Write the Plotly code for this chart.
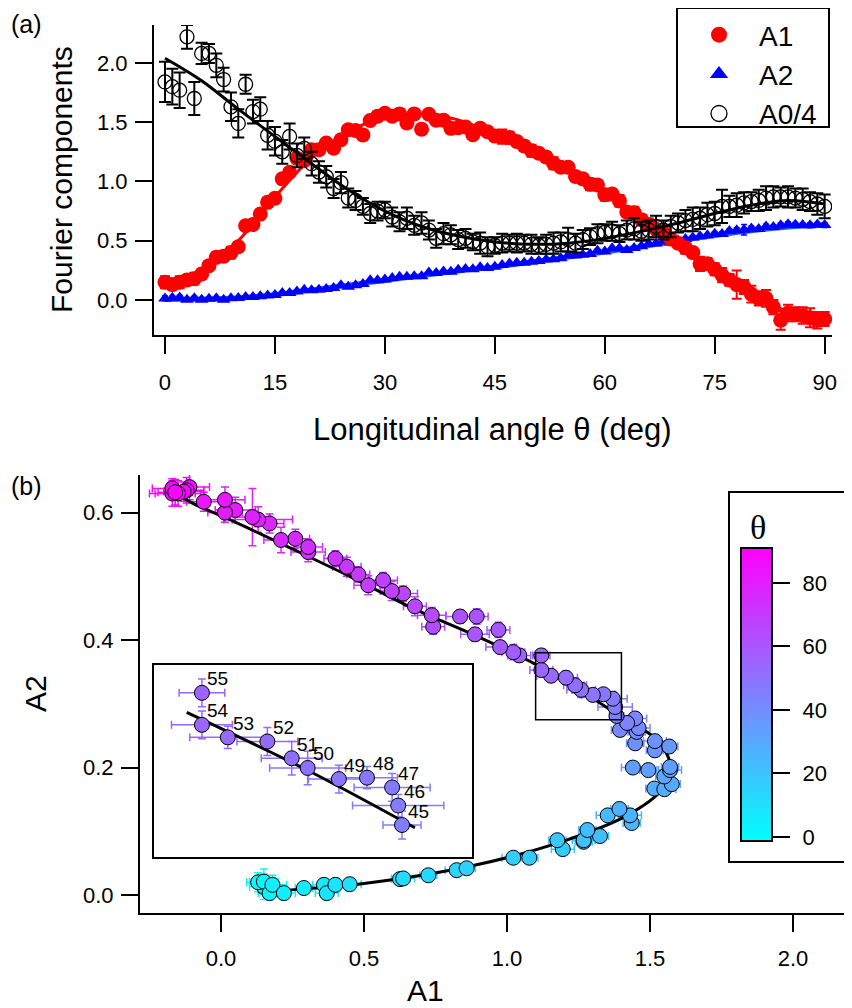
import plotly.graph_objects as go

# ---------------- data ----------------
theta = list(range(91))

A1 = [0.15, 0.13, 0.15, 0.17, 0.18, 0.22, 0.29, 0.36, 0.37, 0.40,
      0.45, 0.626, 0.637, 0.725, 0.824, 0.859, 1.022, 1.078, 1.195, 1.176,
      1.268, 1.268, 1.325, 1.281, 1.352, 1.436, 1.43, 1.393, 1.515, 1.55,
      1.576, 1.55, 1.57, 1.494, 1.57, 1.44, 1.567, 1.517, 1.517, 1.448,
      1.453, 1.46, 1.395, 1.448, 1.42, 1.383, 1.378, 1.37, 1.337, 1.30,
      1.259, 1.238, 1.206, 1.154, 1.12, 1.12, 1.043, 1.022, 0.976, 0.97,
      0.888, 0.894, 0.836, 0.742, 0.737, 0.678, 0.637, 0.597, 0.567, 0.515,
      0.48, 0.44, 0.40, 0.305, 0.305, 0.26, 0.21, 0.17, 0.13, 0.11,
      0.05, 0.014, 0.014, -0.06, -0.17, -0.11, -0.12, -0.13, -0.15, -0.17,
      -0.16]

A2 = [0.013, 0.020, 0.021, 0.003, 0.016, 0.003, 0.011, 0.016, 0.003, 0.016,
      0.017, 0.025, 0.026, 0.031, 0.039, 0.042, 0.0585, 0.0585, 0.072, 0.086,
      0.0835, 0.086, 0.0925, 0.102, 0.125, 0.113, 0.125, 0.135, 0.167, 0.166,
      0.174, 0.186, 0.196, 0.196, 0.201, 0.200, 0.233, 0.227, 0.2415, 0.238,
      0.256, 0.262, 0.259, 0.277, 0.270, 0.281, 0.295, 0.308, 0.315, 0.314,
      0.322, 0.329, 0.341, 0.344, 0.353, 0.376, 0.376, 0.381, 0.389, 0.416,
      0.409, 0.437, 0.437, 0.421, 0.439, 0.453, 0.473, 0.477, 0.494, 0.486,
      0.503, 0.515, 0.528, 0.538, 0.546, 0.559, 0.557, 0.583, 0.589, 0.593,
      0.604, 0.600, 0.620, 0.617, 0.630, 0.640, 0.635, 0.633, 0.630, 0.638,
      0.632]

A0_4 = [1.84, 1.80, 1.77, 2.22, 1.70, 2.08, 2.08, 1.98, 1.86, 1.63,
        1.49, 1.82, 1.59, 1.61, 1.39, 1.34, 1.25, 1.38, 1.22, 1.28,
        1.15, 1.08, 1.04, 0.94, 0.99, 0.86, 0.84, 0.79, 0.73, 0.75,
        0.76, 0.70, 0.66, 0.69, 0.63, 0.65, 0.59, 0.52, 0.56, 0.55,
        0.51, 0.52, 0.49, 0.48, 0.45, 0.46, 0.48, 0.48, 0.48, 0.48,
        0.47, 0.46, 0.47, 0.48, 0.49, 0.51, 0.48, 0.51, 0.535, 0.56,
        0.57, 0.58, 0.56, 0.59, 0.60, 0.58, 0.59, 0.62, 0.59, 0.62,
        0.65, 0.67, 0.68, 0.69, 0.72, 0.73, 0.79, 0.79, 0.80, 0.82,
        0.83, 0.84, 0.86, 0.87, 0.87, 0.87, 0.86, 0.85, 0.83, 0.81,
        0.79]

err_A1 = [0.05, 0.04, 0.05, 0.04, 0.05, 0.04, 0.03, 0.04, 0.04, 0.05,
          0.04, 0.03, 0.04, 0.03, 0.04, 0.03, 0.04, 0.03, 0.04, 0.03,
          0.03, 0.04, 0.03, 0.03, 0.04, 0.03, 0.04, 0.03, 0.03, 0.04,
          0.03, 0.03, 0.04, 0.03, 0.03, 0.04, 0.03, 0.03, 0.04, 0.03,
          0.03, 0.04, 0.03, 0.04, 0.03, 0.025, 0.06, 0.05, 0.04, 0.04,
          0.05, 0.04, 0.04, 0.05, 0.04, 0.03, 0.04, 0.04, 0.05, 0.04,
          0.05, 0.04, 0.05, 0.04, 0.05, 0.04, 0.05, 0.04, 0.05, 0.05,
          0.04, 0.05, 0.04, 0.06, 0.05, 0.05, 0.06, 0.05, 0.12, 0.06,
          0.07, 0.06, 0.07, 0.06, 0.08, 0.07, 0.06, 0.07, 0.08, 0.07,
          0.06]

err_A2 = [0.020, 0.015, 0.020, 0.010, 0.015, 0.010, 0.010, 0.010, 0.010, 0.010,
          0.010, 0.008, 0.008, 0.007, 0.008, 0.007, 0.008, 0.007, 0.008, 0.007,
          0.008, 0.007, 0.008, 0.007, 0.008, 0.007, 0.008, 0.007, 0.008, 0.007,
          0.008, 0.007, 0.008, 0.007, 0.008, 0.007, 0.008, 0.007, 0.008, 0.007,
          0.008, 0.007, 0.008, 0.007, 0.008, 0.010, 0.008, 0.010, 0.008, 0.010,
          0.012, 0.012, 0.010, 0.008, 0.010, 0.010, 0.010, 0.012, 0.010, 0.012,
          0.010, 0.012, 0.010, 0.012, 0.012, 0.015, 0.012, 0.015, 0.012, 0.015,
          0.012, 0.015, 0.012, 0.015, 0.012, 0.015, 0.020, 0.015, 0.020, 0.045,
          0.020, 0.015, 0.020, 0.015, 0.020, 0.020, 0.020, 0.015, 0.020, 0.015,
          0.020]

err_A0 = [0.17, 0.15, 0.15, 0.10, 0.14, 0.09, 0.08, 0.10, 0.10, 0.12,
          0.12, 0.08, 0.10, 0.10, 0.12, 0.12, 0.10, 0.11, 0.10, 0.09,
          0.10, 0.09, 0.09, 0.08, 0.09, 0.08, 0.08, 0.07, 0.08, 0.08,
          0.07, 0.08, 0.08, 0.09, 0.08, 0.09, 0.08, 0.08, 0.09, 0.08,
          0.08, 0.08, 0.07, 0.09, 0.08, 0.07, 0.08, 0.07, 0.08, 0.07,
          0.08, 0.07, 0.08, 0.09, 0.08, 0.10, 0.08, 0.08, 0.07, 0.08,
          0.07, 0.08, 0.07, 0.08, 0.09, 0.08, 0.08, 0.09, 0.08, 0.09,
          0.08, 0.09, 0.10, 0.09, 0.10, 0.10, 0.14, 0.09, 0.10, 0.09,
          0.08, 0.09, 0.10, 0.09, 0.08, 0.09, 0.08, 0.09, 0.08, 0.09,
          0.10]

# fitted curves (sampled every 5 degrees)
theta_fit = list(range(0, 91, 5))
A1_fit = [0.13, 0.24, 0.50, 0.87, 1.20, 1.42, 1.54, 1.57, 1.52, 1.40,
          1.26, 1.10, 0.90, 0.67, 0.45, 0.24, 0.05, -0.10, -0.18]
A2_fit = [0.005, 0.008, 0.018, 0.045, 0.085, 0.125, 0.165, 0.205, 0.245, 0.279,
          0.320, 0.362, 0.405, 0.450, 0.500, 0.545, 0.585, 0.615, 0.635]
A0_fit = [2.04, 1.85, 1.61, 1.38, 1.15, 0.93, 0.75, 0.62, 0.54, 0.49,
          0.47, 0.48, 0.52, 0.58, 0.65, 0.73, 0.80, 0.84, 0.81]

inset_theta = list(range(45, 56))
inset_labels = [str(t) for t in inset_theta]

top_xticks = [0, 15, 30, 45, 60, 75, 90]
top_yticks = [0.0, 0.5, 1.0, 1.5, 2.0]
bot_xticks = [0.0, 0.5, 1.0, 1.5, 2.0]
bot_yticks = [0.0, 0.2, 0.4, 0.6]
cbar_ticks = [0, 20, 40, 60, 80]

# ---------------- styling helpers ----------------
OFF = 8                      # page body margin of the html page
W, H = 852 - OFF, 1008 - OFF
CMIN, CMAX = -1.3, 91.0
FONT = "Liberation Sans, Arial, sans-serif"
TICK_SIZE = 22
TITLE_SIZE = 30
CB_LEFT, CB_RIGHT, CB_TOP, CB_BOTTOM = 741, 772, 548, 841


def px_x(p):
    return (p - OFF) / W


def px_y(p):
    return 1 - (p - OFF) / H


def theta_color(t):
    f = (t - CMIN) / (CMAX - CMIN)
    f = min(max(f, 0.0), 1.0)
    return "rgb(%d,%d,255)" % (round(255 * f), round(255 * (1 - f)))


fig = go.Figure()

# ---------------- panel (a) ----------------
fig.add_trace(go.Scatter(x=theta_fit, y=A2_fit, mode="lines", line=dict(color="rgb(30,90,255)", width=5, shape="spline"),
                         showlegend=False, xaxis="x", yaxis="y"))
fig.add_trace(go.Scatter(x=theta, y=A2, mode="markers",
                         marker=dict(symbol="triangle-up", size=12, color="blue"),
                         error_y=dict(type="data", array=err_A2, color="blue", thickness=1.5, width=3),
                         showlegend=False, xaxis="x", yaxis="y"))
fig.add_trace(go.Scatter(x=theta_fit, y=A1_fit, mode="lines", line=dict(color="red", width=3, shape="spline"),
                         showlegend=False, xaxis="x", yaxis="y"))
fig.add_trace(go.Scatter(x=theta, y=A1, mode="markers",
                         marker=dict(symbol="circle", size=15, color="red"),
                         error_y=dict(type="data", array=err_A1, color="red", thickness=2, width=5),
                         showlegend=False, xaxis="x", yaxis="y"))
fig.add_trace(go.Scatter(x=theta, y=A0_4, mode="markers",
                         marker=dict(symbol="circle-open", size=14, color="black", line=dict(width=1.3)),
                         error_y=dict(type="data", array=err_A0, color="black", thickness=2, width=6),
                         showlegend=False, xaxis="x", yaxis="y"))
fig.add_trace(go.Scatter(x=theta_fit, y=A0_fit, mode="lines", line=dict(color="black", width=3, shape="spline"),
                         showlegend=False, xaxis="x", yaxis="y"))

# legend entries
fig.add_trace(go.Scatter(x=[None], y=[None], mode="markers", name="A1",
                         marker=dict(symbol="circle", size=20, color="red"), xaxis="x", yaxis="y"))
fig.add_trace(go.Scatter(x=[None], y=[None], mode="markers", name="A2",
                         marker=dict(symbol="triangle-up", size=20, color="blue"), xaxis="x", yaxis="y"))
fig.add_trace(go.Scatter(x=[None], y=[None], mode="markers", name="A0/4",
                         marker=dict(symbol="circle-open", size=20, color="black", line=dict(width=1.3)),
                         xaxis="x", yaxis="y"))

# ---------------- panel (b) ----------------
for t, a1, a2, e1, e2 in zip(theta, A1, A2, err_A1, err_A2):
    c = theta_color(t)
    fig.add_trace(go.Scatter(x=[a1], y=[a2], mode="markers", marker=dict(size=1, color="rgba(0,0,0,0)"),
                             error_x=dict(type="data", array=[e1], color=c, thickness=1.5, width=4),
                             error_y=dict(type="data", array=[e2], color=c, thickness=1.5, width=4),
                             showlegend=False, hoverinfo="skip", xaxis="x2", yaxis="y2"))

fig.add_trace(go.Scatter(x=A1_fit, y=A2_fit, mode="lines", line=dict(color="black", width=3, shape="spline"),
                         showlegend=False, xaxis="x2", yaxis="y2"))

fig.add_trace(go.Scatter(
    x=A1, y=A2, mode="markers", showlegend=False, xaxis="x2", yaxis="y2",
    marker=dict(size=15, color=theta, cmin=CMIN, cmax=CMAX,
                colorscale=[[0, "rgb(0,255,255)"], [1, "rgb(255,0,255)"]],
                line=dict(color="black", width=1),
                colorbar=dict(x=px_x(CB_LEFT), xanchor="left", xpad=0,
                              y=px_y((CB_TOP + CB_BOTTOM) / 2), yanchor="middle", ypad=0,
                              len=CB_BOTTOM - CB_TOP, lenmode="pixels",
                              thickness=CB_RIGHT - CB_LEFT, thicknessmode="pixels",
                              outlinewidth=2, outlinecolor="black",
                              ticks="", showticklabels=False)),
))

# scale axis for the colour bar (ticks and labels of theta)
fig.add_trace(go.Scatter(x=[None], y=[None], mode="markers", showlegend=False, hoverinfo="skip",
                         xaxis="x4", yaxis="y4"))

# ---------------- inset ----------------
idx = [theta.index(t) for t in inset_theta]
for i in idx:
    c = theta_color(theta[i])
    fig.add_trace(go.Scatter(x=[A1[i]], y=[A2[i]], mode="markers", marker=dict(size=1, color="rgba(0,0,0,0)"),
                             error_x=dict(type="data", array=[err_A1[i]], color=c, thickness=1.5, width=4),
                             error_y=dict(type="data", array=[err_A2[i]], color=c, thickness=1.5, width=4),
                             showlegend=False, hoverinfo="skip", xaxis="x3", yaxis="y3"))

fit_idx = [k for k, t in enumerate(theta_fit) if inset_theta[0] <= t <= inset_theta[-1]]
fig.add_trace(go.Scatter(x=[A1_fit[k] for k in fit_idx], y=[A2_fit[k] for k in fit_idx], mode="lines",
                         line=dict(color="black", width=3, shape="spline"),
                         showlegend=False, xaxis="x3", yaxis="y3"))
fig.add_trace(go.Scatter(
    x=[A1[i] for i in idx], y=[A2[i] for i in idx], mode="markers", showlegend=False, xaxis="x3", yaxis="y3",
    marker=dict(size=15, color=[theta[i] for i in idx], cmin=CMIN, cmax=CMAX,
                colorscale=[[0, "rgb(0,255,255)"], [1, "rgb(255,0,255)"]],
                line=dict(color="black", width=1), showscale=False),
))

annotations = []
for i, lab in zip(idx, inset_labels):
    annotations.append(dict(x=A1[i], y=A2[i], xref="x3", yref="y3", text=lab, showarrow=False,
                            xanchor="center", yanchor="middle", xshift=16, yshift=14,
                            font=dict(family=FONT, size=19, color="black")))


# ---------------- text ----------------
def add_text(txt, x, y, size, angle=0, family=FONT):
    annotations.append(dict(x=px_x(x), y=px_y(y), xref="paper", yref="paper", text=txt, showarrow=False,
                            xanchor="center", yanchor="middle", textangle=angle,
                            font=dict(family=family, size=size, color="black")))


add_text("(a)", 26, 24, 25)
add_text("(b)", 26, 486, 25)
add_text("Fourier components", 62, 180, TITLE_SIZE, -90)
add_text("Longitudinal angle \u03b8 (deg)", 492, 430, 31)
add_text("A2", 35, 693, TITLE_SIZE, -90)
add_text("A1", 425, 990, TITLE_SIZE)
add_text("\u03b8", 758, 527, 34, family="Liberation Serif, Times New Roman, serif")

shapes = [
    dict(type="rect", xref="paper", yref="paper", x0=px_x(677), x1=px_x(829), y0=px_y(127), y1=px_y(8),
         line=dict(color="black", width=2)),
    dict(type="rect", xref="paper", yref="paper", x0=px_x(729), x1=px_x(850), y0=px_y(862), y1=px_y(492),
         line=dict(color="black", width=2)),
    dict(type="rect", xref="x2", yref="y2", x0=1.10, x1=1.40, y0=0.275, y1=0.38,
         line=dict(color="black", width=1.5)),
]

axis_common = dict(showgrid=False, zeroline=False, showline=True, linecolor="black", linewidth=2,
                   ticks="outside", ticklen=17, tickwidth=2, tickcolor="black",
                   tickfont=dict(family=FONT, size=TICK_SIZE, color="black"), automargin=False)

fig.update_layout(
    width=W, height=H, margin=dict(l=0, r=0, t=0, b=0),
    paper_bgcolor="white", plot_bgcolor="rgba(0,0,0,0)",
    showlegend=True,
    legend=dict(x=px_x(679), y=px_y(10), xanchor="left", yanchor="top",
                bgcolor="rgba(0,0,0,0)", borderwidth=0,
                font=dict(family=FONT, size=28, color="black"), itemwidth=70, tracegroupgap=0),
    xaxis=dict(domain=[px_x(154), px_x(832)], range=[-1.5, 91.0], tickvals=top_xticks,
               anchor="y", ticklabelstandoff=10, **axis_common),
    yaxis=dict(domain=[px_y(335), px_y(25)], range=[-0.295, 2.32], tickvals=top_yticks, tickformat=".1f",
               anchor="x", ticklabelstandoff=3, **axis_common),
    xaxis2=dict(domain=[px_x(140), 1.0], range=[-0.283, 2.206], tickvals=bot_xticks, tickformat=".1f",
                anchor="y2", ticklabelstandoff=8, **axis_common),
    yaxis2=dict(domain=[px_y(913), px_y(475)], range=[-0.0282, 0.659], tickvals=bot_yticks, tickformat=".1f",
                anchor="x2", ticklabelstandoff=3, **axis_common),
    xaxis3=dict(domain=[px_x(154), px_x(472)], range=[1.057, 1.475], anchor="y3",
                showgrid=False, zeroline=False, showline=True, mirror=True, linecolor="black", linewidth=2,
                showticklabels=False, ticks=""),
    yaxis3=dict(domain=[px_y(857), px_y(665)], range=[0.258, 0.396], anchor="x3",
                showgrid=False, zeroline=False, showline=True, mirror=True, linecolor="black", linewidth=2,
                showticklabels=False, ticks=""),
    xaxis4=dict(domain=[px_x(CB_LEFT), px_x(CB_RIGHT)], range=[0, 1], anchor="y4", visible=False),
    yaxis4=dict(domain=[px_y(CB_BOTTOM), px_y(CB_TOP)], range=[CMIN, CMAX], anchor="x4", side="right",
                showgrid=False, zeroline=False, showline=False,
                ticks="outside", ticklen=17, tickwidth=2, tickcolor="black", tickvals=cbar_ticks,
                ticklabelstandoff=8, tickfont=dict(family=FONT, size=TICK_SIZE, color="black"),
                automargin=False),
    annotations=annotations,
    shapes=shapes,
)

fig.write_html("out.html")
